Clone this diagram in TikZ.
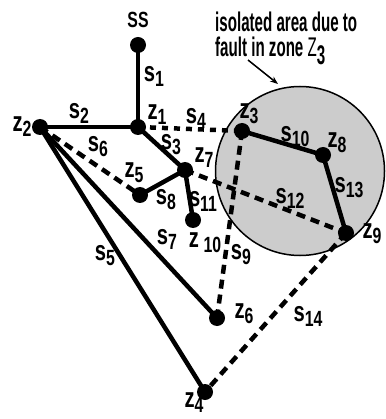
\documentclass[tikz,border=0pt]{standalone}
\usepackage{fontspec}
\setmainfont{Liberation Sans}[FakeStretch=0.72]
\newfontfamily\capfont{Liberation Sans}[FakeStretch=0.56]
\usetikzlibrary{arrows.meta}
\newcommand\lb[2]{#1\raisebox{-5pt}{\fontsize{22}{22}\selectfont #2}}
\begin{document}
\begin{tikzpicture}[x=1pt,y=-1pt,
  font=\bfseries\fontsize{28}{28}\selectfont,
  dot/.style={circle, fill=black, inner sep=0pt, minimum size=16pt},
  wire/.style={line width=4.5pt},
  openwire/.style={line width=4.5pt, dash pattern=on 9pt off 6pt},
  dotwire/.style={line width=4.5pt, dash pattern=on 6pt off 6pt},
  lab/.style={inner sep=0pt, anchor=center},
  captext/.style={inner sep=0pt, anchor=base west,
    font=\capfont\bfseries\fontsize{27}{27}\selectfont}]
\useasboundingbox (0,0) rectangle (385,419);
% isolated area
\fill[gray!40, draw=black, line width=1.5pt] (300,171) circle (84.5pt);
% nodes
\node[dot] (ss) at (138,45) {};
\node[dot] (z1) at (138,127) {};
\node[dot] (z2) at (40,127) {};
\node[dot] (z3) at (242,131) {};
\node[dot] (z8) at (323,155) {};
\node[dot] (z9) at (346,233) {};
\node[dot] (z7) at (185,170) {};
\node[dot] (z5) at (140,195) {};
\node[dot] (z10) at (193,220) {};
\node[dot] (z6) at (217,318) {};
\node[dot] (z4) at (205,392) {};
% closed switches
\draw[wire] (ss.center) -- (z1.center);
\draw[wire] (z1.center) -- (z2.center);
\draw[wire] (z1.center) -- (z7.center);
\draw[wire] (z7.center) -- (z5.center);
\draw[wire] (z7.center) -- (z10.center);
\draw[wire] (z2.center) -- (z6.center);
\draw[wire] (z2.center) -- (z4.center);
\draw[wire] (z3.center) -- (z8.center);
\draw[wire] (z8.center) -- (z9.center);
% open switches
\draw[dotwire] (z1.center) -- (z3.center);
\draw[openwire] (z2.center) -- (z5.center);
\draw[openwire] (z3.center) -- (z6.center);
\draw[openwire] (z7.center) -- (z9.center);
\draw[openwire] (z9.center) -- (z4.center);
% labels
\node[lab, font=\bfseries\fontsize{22}{22}\selectfont] (lss) at (138,20) {SS};
\node[lab] (l1) at (154,76) {\lb{s}{1}};
\node[lab] (l2) at (79,113) {\lb{s}{2}};
\node[lab] (lz1) at (157,115) {\lb{z}{1}};
\node[lab] (lz2) at (22,127) {\lb{z}{2}};
\node[lab] (l6) at (98,147) {\lb{s}{6}};
\node[lab] (l3) at (171,145) {\lb{s}{3}};
\node[lab] (lz5) at (134,173) {\lb{z}{5}};
\node[lab] (lz7) at (204,158) {\lb{z}{7}};
\node[lab] (l8) at (166,200) {\lb{s}{8}};
\node[lab] (l11) at (203,201) {\lb{s}{11}};
\node[lab] (l4) at (196,118) {\lb{s}{4}};
\node[lab] (lz3) at (249,114) {\lb{z}{3}};
\node[lab] (l10) at (295,137) {\lb{s}{10}};
\node[lab] (lz8) at (337,143) {\lb{z}{8}};
\node[lab] (l13) at (349,188) {\lb{s}{13}};
\node[lab] (lz9) at (372,234) {\lb{z}{9}};
\node[lab] (l12) at (290,198) {\lb{s}{12}};
\node[lab] (lz10) at (205,243) {\lb{z\,}{10}};
\node[lab] (l9) at (241,255) {\lb{s}{9}};
\node[lab] (l7) at (167,239) {\lb{s}{7}};
\node[lab] (l5) at (105,256) {\lb{s}{5}};
\node[lab] (lz6) at (244,314) {\lb{z}{6}};
\node[lab] (l14) at (308,316) {\lb{s}{14}};
\node[lab] (lz4) at (194,403) {\lb{z}{4}};
% caption
\node[captext] (cap1) at (215,32) {isolated area due to};
\node[captext] (cap2) at (215,57) {fault in zone {\mdseries Z}\raisebox{-8pt}{3}};
\coordinate (captip) at (248,60);
\coordinate (circtop) at (278,84);
\draw[line width=1.5pt, -{Stealth[length=8pt,width=6pt]}] (captip) -- (circtop);
\end{tikzpicture}
\end{document}
